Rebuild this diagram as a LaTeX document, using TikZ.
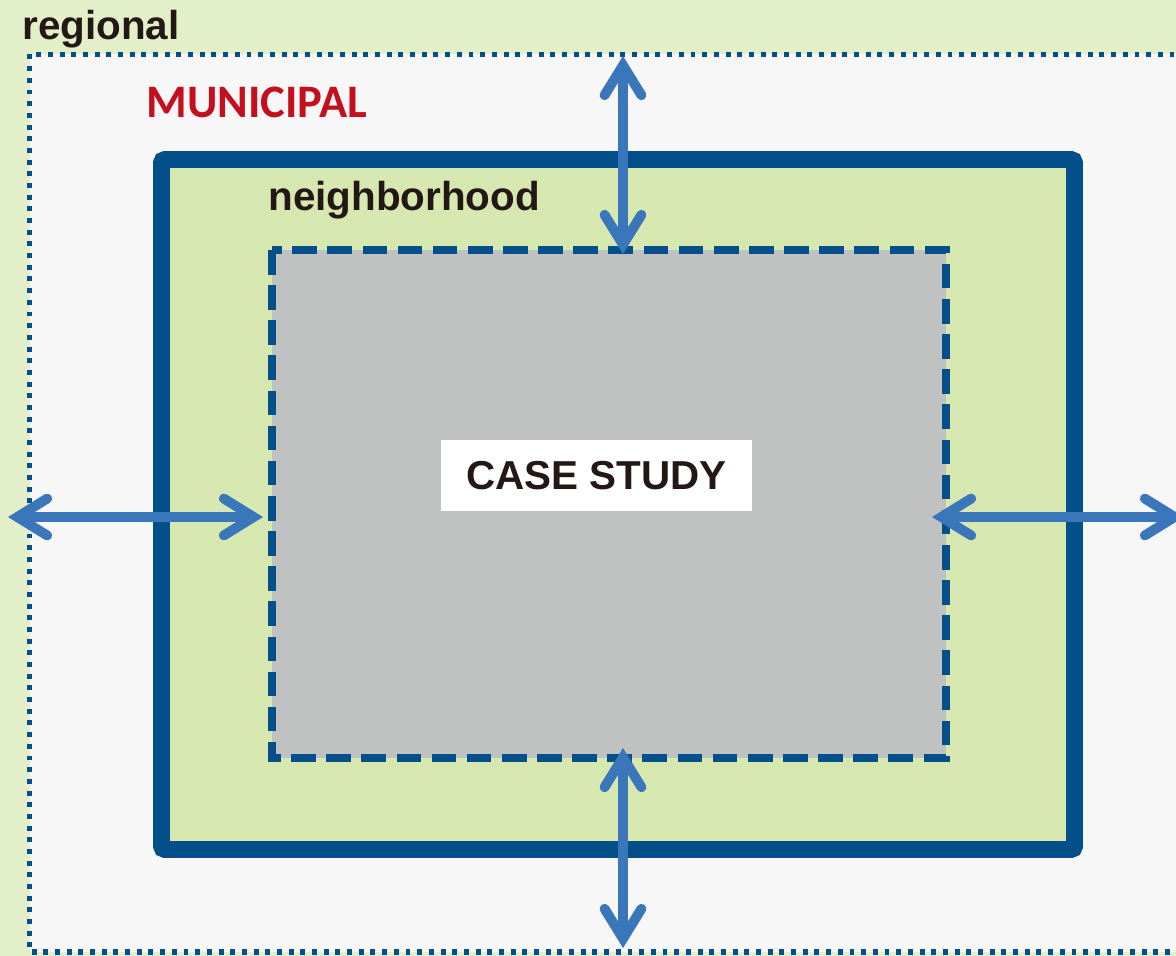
\documentclass[tikz,border=0pt]{standalone}
\usepackage{fontspec}
\setmainfont{Liberation Sans}
\newfontfamily\calfont{Carlito}
\usetikzlibrary{arrows.meta}
\definecolor{regbg}{HTML}{E3EFC8}
\definecolor{munbg}{HTML}{F7F7F7}
\definecolor{nbhbg}{HTML}{D7E7B0}
\definecolor{casebg}{HTML}{C0C1C1}
\definecolor{darkblue}{HTML}{034F89}
\definecolor{arrblue}{HTML}{3A76BA}
\definecolor{munred}{HTML}{C4101E}
\definecolor{txt}{HTML}{231815}
\tikzset{
  dotbox/.style={draw=darkblue, line width=3pt, dash pattern=on 2.8pt off 3.85pt, fill=munbg},
  solidbox/.style={draw=darkblue, line width=9.6pt, rounded corners=2pt, fill=nbhbg},
  dashbox/.style={draw=darkblue, line width=4pt, dash pattern=on 14pt off 6pt, fill=casebg},
  link/.style={draw=arrblue, line width=5.6pt,
    {Straight Barb[length=17pt, width=21pt, line cap=round, line join=miter]}-{Straight Barb[length=17pt, width=21pt, line cap=round, line join=miter]}},
  lbl/.style={font=\bfseries\fontsize{23}{26}\selectfont, text=txt, inner sep=0pt, anchor=base west}
}
\begin{document}
\begin{tikzpicture}[x=0.02cm, y=-0.02cm]
\useasboundingbox (0,0) rectangle (1176,956);
\clip (0,0) rectangle (1176,956);
\fill[regbg] (0,0) rectangle (1176,956);
\draw[dotbox] (29.5,54.5) rectangle (1200,952);
\draw[solidbox] (161.5,159.5) rectangle (1074.5,849.5);
\draw[dashbox] (272,250) rectangle (946,758);
\node[lbl] (regional) at (22,40) {regional};
\node[lbl, font=\calfont\bfseries\fontsize{26.5}{29}\selectfont, text=munred] (municipal) at (146,118) {MUNICIPAL};
\node[lbl] (neighborhood) at (268,211) {neighborhood};
\node[fill=white, minimum width=311*0.02cm, minimum height=71*0.02cm, inner sep=0pt,
  font=\bfseries\fontsize{23}{26}\selectfont, text=txt] (case) at (596.5,475.5) {CASE STUDY};
\coordinate (topA) at (623,56);
\coordinate (topB) at (623,254);
\coordinate (botA) at (623,748);
\coordinate (botB) at (623,948);
\coordinate (leftA) at (8,517);
\coordinate (leftB) at (263,517);
\coordinate (rightA) at (932,517);
\coordinate (rightB) at (1184,517);
\draw[link] (topA) -- (topB);
\draw[link] (botA) -- (botB);
\draw[link] (leftA) -- (leftB);
\draw[link] (rightA) -- (rightB);
\end{tikzpicture}
\end{document}
